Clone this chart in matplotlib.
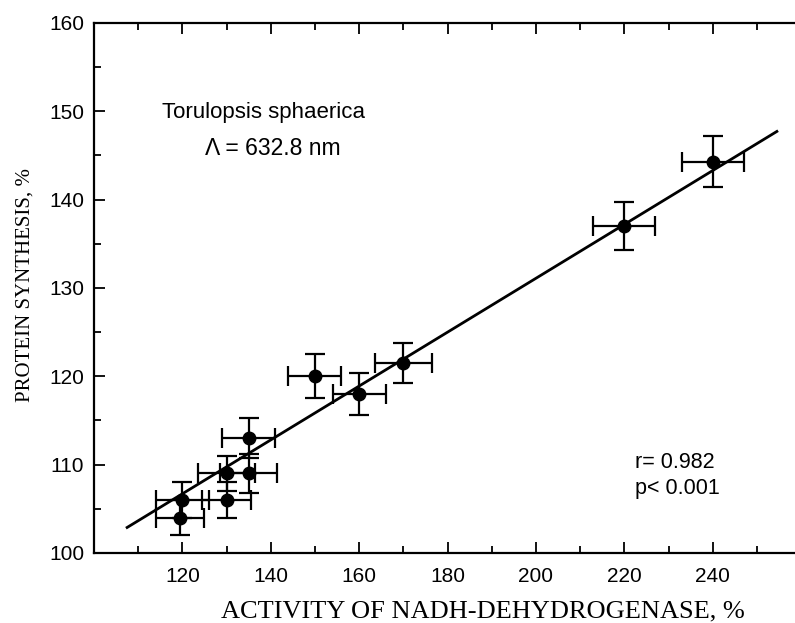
import matplotlib
matplotlib.use("Agg")
import matplotlib.pyplot as plt
from matplotlib.ticker import MultipleLocator
import numpy as np

# NADH-dehydrogenase activity (%) vs protein synthesis (%)
activity = [119.5, 120, 130, 130, 135, 135, 150, 160, 170, 220, 240]
synthesis = [104, 106, 106, 109, 109, 113, 120, 118, 121.5, 137, 144.3]
activity_err = [5.5, 6, 5.5, 6.5, 6.5, 6, 6, 6, 6.5, 7, 7]
synthesis_err = [2, 2, 2, 2, 2.2, 2.3, 2.5, 2.4, 2.3, 2.7, 2.9]

# regression line
fit_slope = 0.305
fit_intercept = 70.1
fit_range = [107.5, 254.5]

fig = plt.figure(figsize=(7.95, 6.23), dpi=100)
ax = fig.add_axes([0.1182, 0.1124, 0.8818, 0.8507])

ax.errorbar(activity, synthesis, xerr=activity_err, yerr=synthesis_err,
            fmt='o', color='black', markersize=9, elinewidth=1.6,
            capsize=7, capthick=1.6)

fx = np.array(fit_range)
ax.plot(fx, fit_slope * fx + fit_intercept, color='black', linewidth=2)

ax.set_xlim(100, 258.6)
ax.set_ylim(100, 160)
ax.xaxis.set_major_locator(MultipleLocator(20))
ax.xaxis.set_minor_locator(MultipleLocator(10))
ax.yaxis.set_major_locator(MultipleLocator(10))
ax.yaxis.set_minor_locator(MultipleLocator(5))

ax.spines['right'].set_visible(False)
for s in ['left', 'top', 'bottom']:
    ax.spines[s].set_linewidth(1.6)

ax.tick_params(which='both', direction='in', top=True, right=False,
               width=1.3, labelsize=15, labelfontfamily='Liberation Sans')
ax.tick_params(which='major', length=8)
ax.tick_params(which='minor', length=5)
ax.tick_params(axis='x', pad=10)
ax.tick_params(axis='y', pad=7)
ax.set_xticks([120, 140, 160, 180, 200, 220, 240])

ax.set_xlabel('ACTIVITY OF NADH-DEHYDROGENASE, %', family='Liberation Serif',
              fontsize=19)
ax.xaxis.set_label_coords(0.555, -0.089)
ax.set_ylabel('PROTEIN SYNTHESIS, %', family='Liberation Serif', fontsize=15)
ax.yaxis.set_label_coords(-0.085, 0.505)

ax.text(0.097, 0.832, 'Torulopsis sphaerica', transform=ax.transAxes,
        family='Liberation Sans', fontsize=16, va='center')
ax.text(0.158, 0.764, '\u039b = 632.8 nm', transform=ax.transAxes,
        family='Liberation Sans', fontsize=16.5, va='center')
ax.text(0.772, 0.170, 'r= 0.982', transform=ax.transAxes,
        family='Liberation Sans', fontsize=15.5, va='center')
ax.text(0.772, 0.122, 'p< 0.001', transform=ax.transAxes,
        family='Liberation Sans', fontsize=15.5, va='center')

fig.savefig('out.png', dpi=100)
